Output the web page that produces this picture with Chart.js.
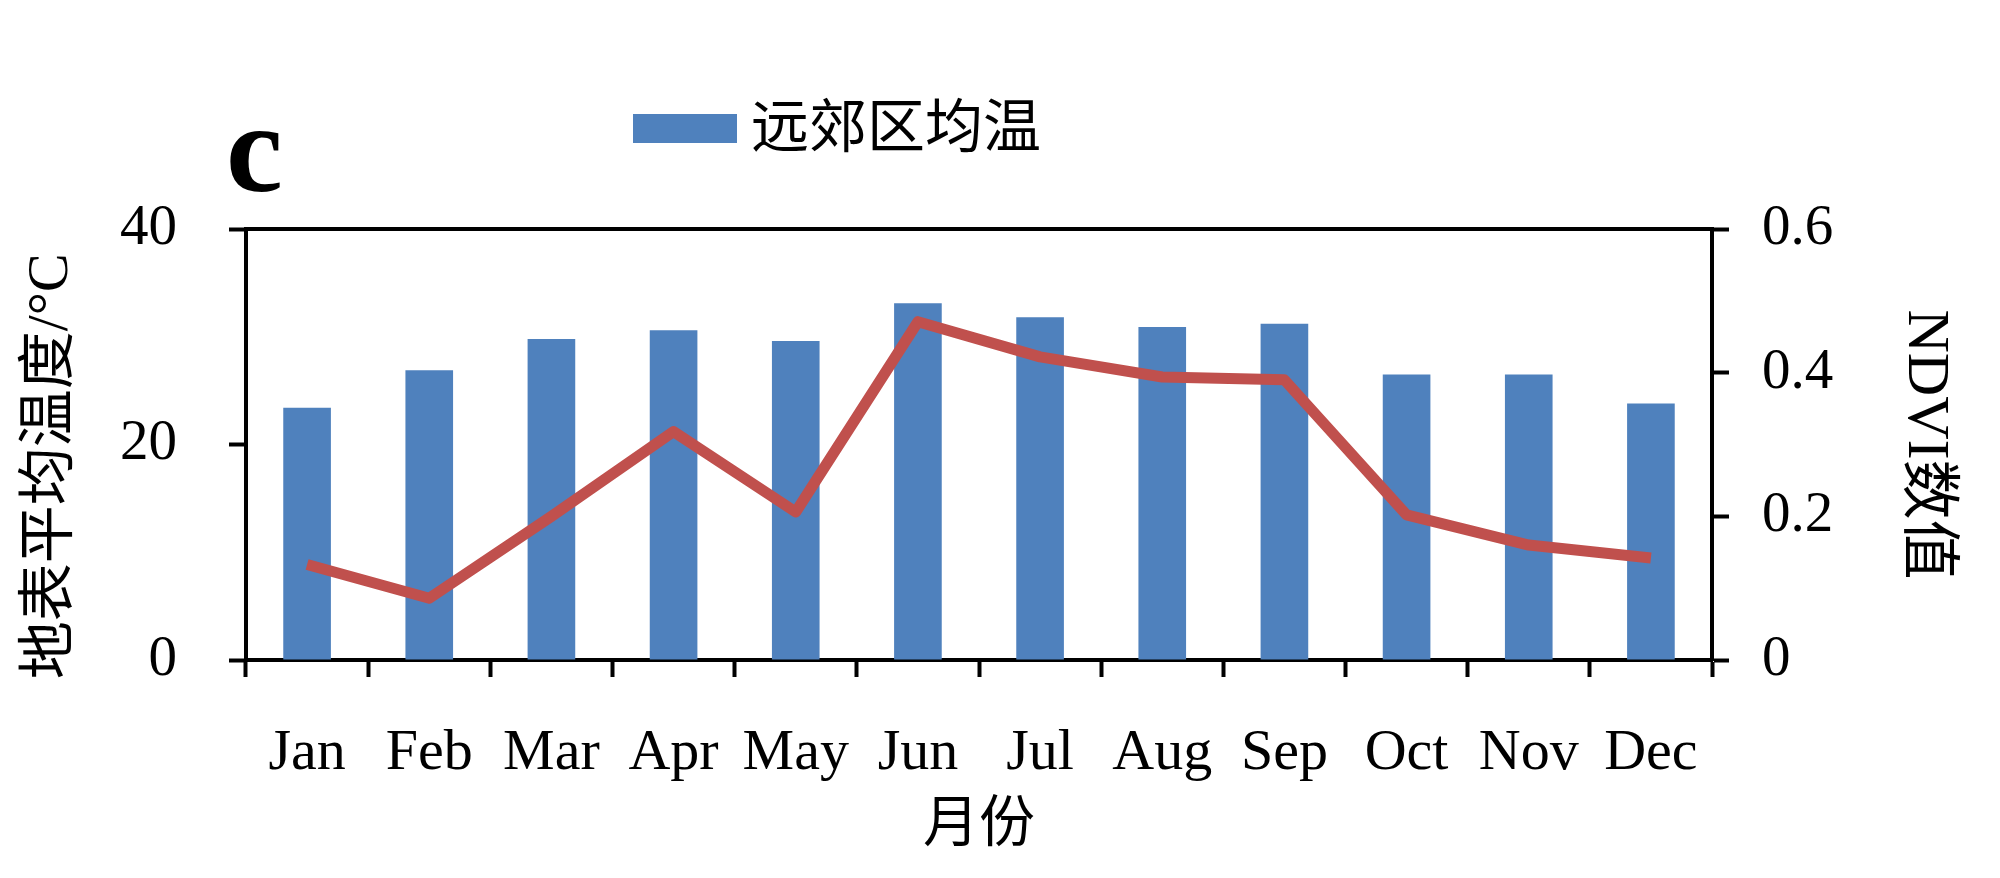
<!DOCTYPE html>
<html>
<head>
<meta charset="utf-8">
<script src="https://cdn.jsdelivr.net/npm/chart.js@4"></script>
<style>
  html, body { margin: 0; padding: 0; background: #fff; }
  canvas { display: block; }
</style>
</head>
<body>
<canvas id="chart" width="2000" height="878"></canvas>
<script>
// Monthly surface temperature (bars, left axis) vs NDVI (line, right axis).
const months = ['Jan', 'Feb', 'Mar', 'Apr', 'May', 'Jun', 'Jul', 'Aug', 'Sep', 'Oct', 'Nov', 'Dec'];
const tempValues = [23.4, 26.9, 29.8, 30.6, 29.6, 33.1, 31.8, 30.9, 31.2, 26.5, 26.5, 23.8];
const ndviValues = [0.133, 0.086, 0.2, 0.318, 0.206, 0.471, 0.422, 0.394, 0.39, 0.202, 0.16, 0.142];
const tempTicks = [0, 20, 40];
const ndviTicks = [0, 0.2, 0.4, 0.6];

const barLabel = '远郊区均温';
const panelLabel = 'c';
const xTitle = '月份';
// trailing spaces nudge the rotated title down, as in the original
const yTitle = '地表平均温度/°C   ';
const y1Title = 'NDVI数值';

const BLUE = '#4F81BD';
const RED = '#C0504D';
const SERIF = "'Liberation Serif', 'Times New Roman', 'Noto Sans CJK SC', serif";

Chart.defaults.color = '#000';
Chart.defaults.font.family = SERIF;

// Plot frame top edge, the legend and the panel letter are drawn by hand.
const decorations = {
  id: 'decorations',
  afterDraw(chart) {
    const { ctx, chartArea: a } = chart;
    ctx.save();
    ctx.strokeStyle = '#000';
    ctx.lineWidth = 4;
    ctx.beginPath();
    ctx.moveTo(a.left - 2, a.top);
    ctx.lineTo(a.right + 2, a.top);
    ctx.stroke();

    const ds = chart.data.datasets[1];
    const bx = a.left + 387;
    ctx.fillStyle = ds.backgroundColor;
    ctx.fillRect(bx, 114, 104, 29);
    ctx.fillStyle = '#000';
    ctx.font = `58px ${SERIF}`;
    ctx.textBaseline = 'middle';
    ctx.textAlign = 'left';
    ctx.fillText(ds.label, bx + 118, 132);

    ctx.font = `bold 128px ${SERIF}`;
    ctx.textBaseline = 'alphabetic';
    ctx.fillText(panelLabel, a.left - 20, 191);
    ctx.restore();
  },
};

const axisBorder = { display: true, color: '#000', width: 4 };
const axisGrid = { drawOnChartArea: false, drawTicks: true, tickLength: 17, tickWidth: 4, color: '#000' };

new Chart(document.getElementById('chart'), {
  data: {
    labels: months,
    datasets: [
      {
        type: 'line',
        label: 'NDVI',
        data: ndviValues,
        yAxisID: 'y1',
        borderColor: RED,
        backgroundColor: RED,
        borderWidth: 11,
        borderJoinStyle: 'round',
        pointRadius: 0,
        tension: 0,
        order: 0,
      },
      {
        type: 'bar',
        label: barLabel,
        data: tempValues,
        yAxisID: 'y',
        backgroundColor: BLUE,
        barPercentage: 0.39,
        categoryPercentage: 1,
        order: 1,
      },
    ],
  },
  options: {
    responsive: false,
    animation: false,
    layout: { padding: { top: 229, left: 0, right: 0, bottom: 0 } },
    plugins: { legend: { display: false }, tooltip: { enabled: false } },
    scales: {
      x: {
        offset: true,
        border: axisBorder,
        grid: { ...axisGrid, offset: true },
        ticks: { font: { size: 58 }, padding: 42, maxRotation: 0, autoSkip: false },
        title: { display: true, text: xTitle, font: { size: 56 }, padding: { top: 0, bottom: 18 } },
        afterFit: (s) => { s.height = 218; },
      },
      y: {
        position: 'left',
        min: 0,
        max: 40,
        border: axisBorder,
        grid: axisGrid,
        afterBuildTicks: (s) => { s.ticks = tempTicks.map((v) => ({ value: v })); },
        ticks: { font: { size: 57 }, padding: 52 },
        title: { display: true, text: yTitle, font: { size: 58 }, padding: { top: 17, bottom: 0 } },
        afterFit: (s) => { s.width = 246; },
      },
      y1: {
        position: 'right',
        min: 0,
        max: 0.6,
        border: axisBorder,
        grid: axisGrid,
        afterBuildTicks: (s) => { s.ticks = ndviTicks.map((v) => ({ value: v })); },
        ticks: { font: { size: 57 }, padding: 33, callback: (v) => String(v) },
        title: { display: true, text: y1Title, font: { size: 60 }, padding: { top: 39, bottom: 0 } },
        afterFit: (s) => { s.width = 288; },
      },
    },
  },
  plugins: [decorations],
});
</script>
</body>
</html>
